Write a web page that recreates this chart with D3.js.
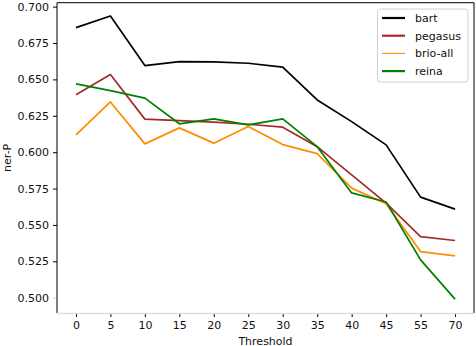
<!DOCTYPE html>
<html>
<head>
<meta charset="utf-8">
<script src="https://cdn.jsdelivr.net/npm/d3@7"></script>
<style>
  body { margin: 0; background: #fff; }
  svg { display: block; font-family: "DejaVu Sans", sans-serif; }
</style>
</head>
<body>
<svg id="chart" width="476" height="346"></svg>
<script>
var thresholds = ["0", "5", "10", "15", "20", "25", "30", "35", "40", "45", "55", "70"];
var bart    = [0.6856, 0.6936, 0.6595, 0.6622, 0.6620, 0.6611, 0.6584, 0.6359, 0.6210, 0.6050, 0.5691, 0.5609];
var pegasus = [0.6394, 0.6533, 0.6227, 0.6217, 0.6206, 0.6192, 0.6172, 0.6038, 0.5844, 0.5650, 0.5420, 0.5393];
var brioAll = [0.6119, 0.6345, 0.6057, 0.6167, 0.6062, 0.6176, 0.6052, 0.5990, 0.5753, 0.5645, 0.5317, 0.5288];
var reina   = [0.6469, 0.6423, 0.6371, 0.6195, 0.6229, 0.6187, 0.6229, 0.6038, 0.5720, 0.5658, 0.5260, 0.4990];
var yTicks  = [0.500, 0.525, 0.550, 0.575, 0.600, 0.625, 0.650, 0.675, 0.700];

var series = [
  {name: "bart", values: bart, color: "#000000", legendWidth: 2.2},
  {name: "pegasus", values: pegasus, color: "#a52a2a", legendWidth: 2.2},
  {name: "brio-all", values: brioAll, color: "#ff8c00", legendWidth: 1.1},
  {name: "reina", values: reina, color: "#008000", legendWidth: 2.2}
];

var plotLeft = 57, plotRight = 474, plotTop = 2.7, plotBottom = 313;

var svg = d3.select("#chart");

var x = d3.scalePoint()
    .domain(thresholds)
    .range([plotLeft, plotRight])
    .padding(0.55);

var y = d3.scaleLinear()
    .domain([0.4895, 0.7027])
    .range([plotBottom, plotTop]);

// axes
var xAxis = svg.append("g")
    .attr("transform", "translate(0," + plotBottom + ")")
    .call(d3.axisBottom(x).tickSize(4).tickPadding(4));
var yAxis = svg.append("g")
    .attr("transform", "translate(" + plotLeft + ",0)")
    .call(d3.axisLeft(y).tickValues(yTicks).tickFormat(d3.format(".3f")).tickSize(4).tickPadding(4));

[xAxis, yAxis].forEach(function(g) {
    g.select(".domain").remove();
    g.selectAll("text")
        .style("font-family", "DejaVu Sans, sans-serif")
        .style("font-size", "11px")
        .attr("fill", "#111");
    g.selectAll("line").attr("stroke", "#000");
});
yAxis.selectAll(".tick").filter(function(d) { return d === 0.5; }).select("line").attr("stroke", "#ccc");

// spines
svg.append("line").attr("x1", plotLeft).attr("x2", plotLeft).attr("y1", plotTop).attr("y2", plotBottom)
    .attr("stroke", "#000").attr("stroke-width", 1);
svg.append("line").attr("x1", plotRight).attr("x2", plotRight).attr("y1", plotTop).attr("y2", plotBottom)
    .attr("stroke", "#000").attr("stroke-width", 1);
svg.append("line").attr("x1", plotLeft).attr("x2", plotRight).attr("y1", plotTop).attr("y2", plotTop)
    .attr("stroke", "#000").attr("stroke-width", 1);
svg.append("line").attr("x1", plotLeft).attr("x2", plotRight).attr("y1", plotBottom + 0.5).attr("y2", plotBottom + 0.5)
    .attr("stroke", "#ddd").attr("stroke-width", 1.5);

// lines
var line = d3.line()
    .x(function(d, i) { return x(thresholds[i]); })
    .y(function(d) { return y(d); });

series.forEach(function(s) {
    svg.append("path")
        .datum(s.values)
        .attr("fill", "none")
        .attr("stroke", s.color)
        .attr("stroke-width", 1.7)
        .attr("stroke-linejoin", "round")
        .attr("d", line);
});

// axis labels
svg.append("text")
    .attr("x", (plotLeft + plotRight) / 2)
    .attr("y", 345)
    .attr("text-anchor", "middle")
    .style("font-size", "11px")
    .attr("fill", "#111")
    .text("Threshold");
svg.append("text")
    .attr("transform", "translate(11," + ((plotTop + plotBottom) / 2) + ") rotate(-90)")
    .attr("text-anchor", "middle")
    .style("font-size", "11px")
    .attr("fill", "#111")
    .text("ner-P");

// legend
var legend = svg.append("g");
legend.append("rect")
    .attr("x", 377.5).attr("y", 9)
    .attr("width", 90.5).attr("height", 73)
    .attr("rx", 3)
    .attr("fill", "#fff").attr("fill-opacity", 0.8)
    .attr("stroke", "#d0d0d0");
series.forEach(function(s, i) {
    var ly = 18 + i * 17.7;
    legend.append("line")
        .attr("x1", 382).attr("x2", 405)
        .attr("y1", ly).attr("y2", ly)
        .attr("stroke", s.color)
        .attr("stroke-width", s.legendWidth);
    legend.append("text")
        .attr("x", 415).attr("y", ly + 4)
        .style("font-size", "11px")
        .attr("fill", "#111")
        .text(s.name);
});
</script>
</body>
</html>
